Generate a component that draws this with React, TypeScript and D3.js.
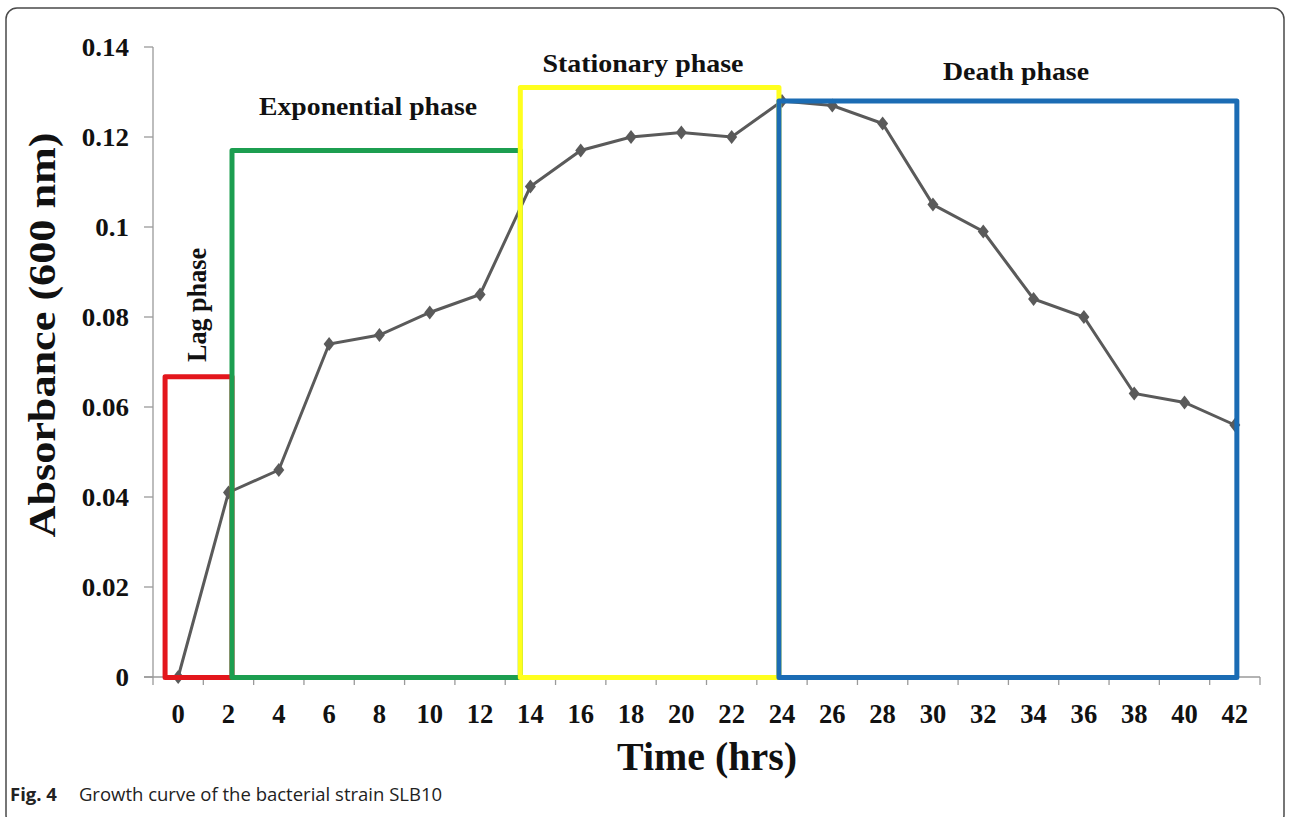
import React from "react";
import * as d3 from "d3";

// ---- data ----
const timeLabels = ["0","2","4","6","8","10","12","14","16","18","20","22","24","26","28","30","32","34","36","38","40","42"];
const absorbance = [0, 0.041, 0.046, 0.074, 0.076, 0.081, 0.085, 0.109, 0.117, 0.120, 0.121, 0.120, 0.128, 0.127, 0.123, 0.105, 0.099, 0.084, 0.080, 0.063, 0.061, 0.056];
const yTicks = [0, 0.02, 0.04, 0.06, 0.08, 0.1, 0.12, 0.14];
const yTickLabels = ["0", "0.02", "0.04", "0.06", "0.08", "0.1", "0.12", "0.14"];
// phase boxes: start / end in category-index units, top in absorbance
const phaseNames = ["Lag phase", "Exponential phase", "Stationary phase", "Death phase"];
const phaseStart = [-0.26, 1.07, 6.8, 11.94];
const phaseEnd = [1.07, 6.8, 11.94, 21.04];
const phaseTop = [0.0667, 0.117, 0.131, 0.128];
const phaseColors = ["#e3161c", "#1c9e50", "#ffff1e", "#1b6cb4"];

const W = 1290, H = 817;
const serif = "'Liberation Serif', 'Times New Roman', serif";

export default function App() {
  const x = d3.scaleBand<string>().domain(timeLabels).range([153, 1260]).padding(0);
  const bw = x.bandwidth();
  const xi = d3.scaleLinear().domain([-0.5, timeLabels.length - 0.5]).range([153, 1260]);
  const y = d3.scaleLinear().domain([0, 0.14]).range([677, 47]);
  const cx = (i: number) => (x(timeLabels[i]) as number) + bw / 2;

  const line = d3.line<number>().x((_, i) => cx(i)).y((d) => y(d));
  const axisColor = "#9a9a9a";

  // phase label placement (px)
  const labelPos = [
    { x: 206, y: 305, rot: true, len: 114 },
    { x: 368, y: 115, rot: false, len: 218 },
    { x: 643, y: 72, rot: false, len: 201 },
    { x: 1016, y: 80, rot: false, len: 146 },
  ];

  return (
    <svg width={W} height={H} style={{ position: "absolute", left: 0, top: 0, background: "#fff" }}>
      <rect x={6} y={8} width={1278} height={818} rx={11} ry={11} fill="#fff" stroke="#4a4a4a" strokeWidth={1.5} />

      {/* axes */}
      <line x1={153} x2={153} y1={y(0.14)} y2={y(0)} stroke={axisColor} strokeWidth={1.3} />
      {yTicks.map((t, i) => (
        <g key={"yt" + i}>
          <line x1={144} x2={153} y1={y(t)} y2={y(t)} stroke={axisColor} strokeWidth={1.3} />
          <text
            transform={`translate(129,${y(t) + 9}) scale(1.08,1)`}
            textAnchor="end"
            fontFamily={serif}
            fontWeight="bold"
            fontSize={25}
            fill="#111"
          >
            {yTickLabels[i]}
          </text>
        </g>
      ))}
      <line x1={144} x2={1260} y1={y(0)} y2={y(0)} stroke={axisColor} strokeWidth={1.3} />
      {d3.range(timeLabels.length + 1).map((k) => (
        <line key={"xt" + k} x1={153 + k * bw} x2={153 + k * bw} y1={y(0)} y2={y(0) + 8} stroke={axisColor} strokeWidth={1.3} />
      ))}
      {timeLabels.map((t, i) => (
        <text
          key={"xl" + i}
          transform={`translate(${cx(i)},723) scale(0.95,1)`}
          textAnchor="middle"
          fontFamily={serif}
          fontWeight="bold"
          fontSize={28}
          fill="#111"
        >
          {t}
        </text>
      ))}

      {/* axis titles */}
      <text
        transform={`translate(55,335) rotate(-90)`}
        textAnchor="middle"
        fontFamily={serif}
        fontWeight="bold"
        fontSize={38}
        textLength={405}
        lengthAdjust="spacingAndGlyphs"
        fill="#111"
      >
        Absorbance (600 nm)
      </text>
      <text x={707} y={770} textAnchor="middle" fontFamily={serif} fontWeight="bold" fontSize={40} textLength={180} lengthAdjust="spacingAndGlyphs" fill="#111">
        Time (hrs)
      </text>

      {/* growth curve */}
      <path d={line(absorbance) || ""} fill="none" stroke="#5a5a5a" strokeWidth={3} />
      {absorbance.map((v, i) => (
        <path key={"m" + i} transform={`translate(${cx(i)},${y(v)})`} d="M0,-7L5.5,0L0,7L-5.5,0Z" fill="#5a5a5a" />
      ))}

      {/* phase boxes */}
      {phaseNames.map((n, i) => (
        <path
          key={"pb" + i}
          d={`M${xi(phaseStart[i])},${y(0) + 0.5}V${y(phaseTop[i])}H${xi(phaseEnd[i])}V${y(0) + 0.5}Z`}
          fill="none"
          stroke={phaseColors[i]}
          strokeWidth={5}
          strokeLinejoin="round"
        />
      ))}

      {/* phase labels */}
      {phaseNames.map((n, i) => {
        const p = labelPos[i];
        return (
          <text
            key={"pl" + i}
            transform={p.rot ? `translate(${p.x},${p.y}) rotate(-90)` : `translate(${p.x},${p.y})`}
            textAnchor="middle"
            fontFamily={serif}
            fontWeight="bold"
            fontSize={p.rot ? 28 : 25}
            textLength={p.len}
            lengthAdjust="spacingAndGlyphs"
            fill="#111"
          >
            {n}
          </text>
        );
      })}

      {/* caption */}
      <text x={10} y={801} fontFamily="'Open Sans', 'Noto Sans', sans-serif" fontSize={18.5} fill="#222">
        <tspan fontWeight="bold">Fig. 4</tspan>
        <tspan dx={22}>Growth curve of the bacterial strain SLB10</tspan>
      </text>
    </svg>
  );
}
